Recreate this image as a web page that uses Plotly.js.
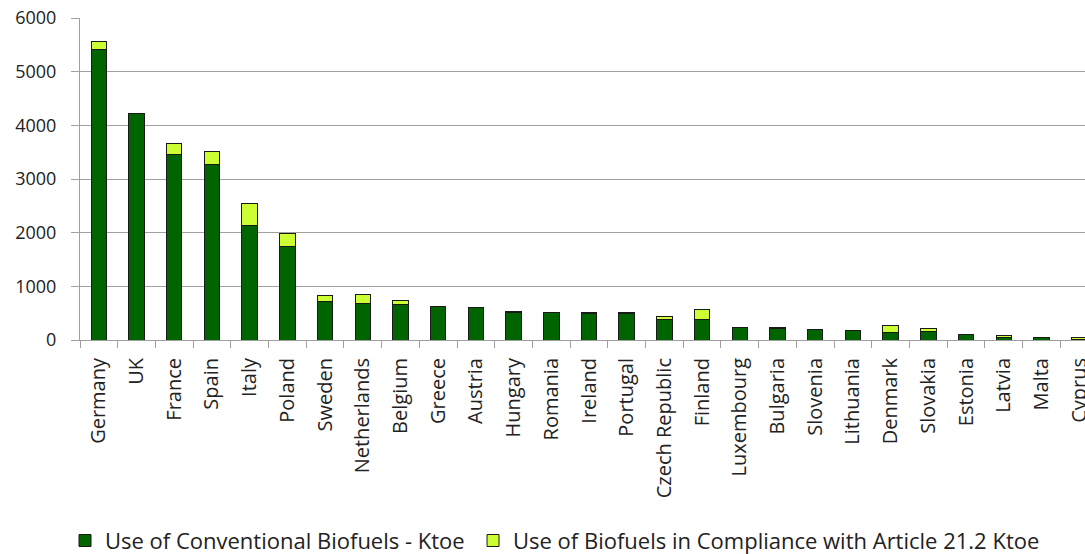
<!DOCTYPE html>
<html>
<head>
<meta charset="utf-8">
<script src="https://cdn.plot.ly/plotly-3.0.1.min.js"></script>
<style>
html,body{margin:0;padding:0;overflow:hidden;background:#fff;}
#chart{width:1098px;height:554px;}
</style>
</head>
<body>
<div id="chart"></div>
<script>
const countries = ["Germany","UK","France","Spain","Italy","Poland","Sweden","Netherlands","Belgium","Greece","Austria","Hungary","Romania","Ireland","Portugal","Czech Republic","Finland","Luxembourg","Bulgaria","Slovenia","Lithuania","Denmark","Slovakia","Estonia","Latvia","Malta","Cyprus"];
const conventional = [5420,4220,3460,3265,2140,1745,725,685,670,625,605,515,505,490,490,390,385,230,215,205,186,145,150,100,40,45,10];
const article212 = [140,0,205,255,410,245,100,160,75,0,0,15,5,20,20,55,180,0,15,0,0,122,62,8,45,5,33];
const seriesNames = ["Use of Conventional Biofuels - Ktoe","Use of Biofuels in Compliance with Article 21.2 Ktoe"];
const yTicks = [0,1000,2000,3000,4000,5000,6000];

const traces = [
  {type:"bar", x:countries, y:conventional, name:seriesNames[0], legend:"legend",
   marker:{color:"#006400", line:{color:"#1a1a1a", width:1}}},
  {type:"bar", x:countries, y:article212, name:seriesNames[1], legend:"legend2",
   marker:{color:"#ccff33", line:{color:"#1a1a1a", width:1}}}
];

const legendBase = {orientation:"h", xref:"container", yref:"container", y:0.024,
  xanchor:"left", yanchor:"middle", font:{size:22, color:"#222"}, bgcolor:"rgba(0,0,0,0)"};

const layout = {
  width:1098, height:554,
  margin:{l:80, r:0, t:18, b:214},
  barmode:"stack", bargap:0.59,
  paper_bgcolor:"#fff", plot_bgcolor:"#fff",
  font:{family:"Open Sans, sans-serif", color:"#222"},
  showlegend:true,
  legend:Object.assign({}, legendBase, {x:0.0592}),
  legend2:Object.assign({}, legendBase, {x:0.4308}),
  xaxis:{type:"category", range:[-0.5, 26.5], tickangle:-90, tickson:"boundaries",
         ticks:"outside", ticklen:7, tickcolor:"#a0a0a0", showline:true, linecolor:"#a0a0a0",
         tickfont:{size:20, color:"#222"}, showgrid:false, ticklabelstandoff:9},
  yaxis:{range:[0,6000], tickvals:yTicks, ticktext:yTicks.map(String),
         ticks:"outside", ticklen:8, tickcolor:"#a0a0a0", showline:true, linecolor:"#a0a0a0",
         gridcolor:"#a0a0a0", gridwidth:1, zeroline:false,
         tickfont:{size:18, color:"#222"}, ticklabelstandoff:11}
};

Plotly.newPlot("chart", traces, layout, {displayModeBar:false, staticPlot:true});
</script>
</body>
</html>
